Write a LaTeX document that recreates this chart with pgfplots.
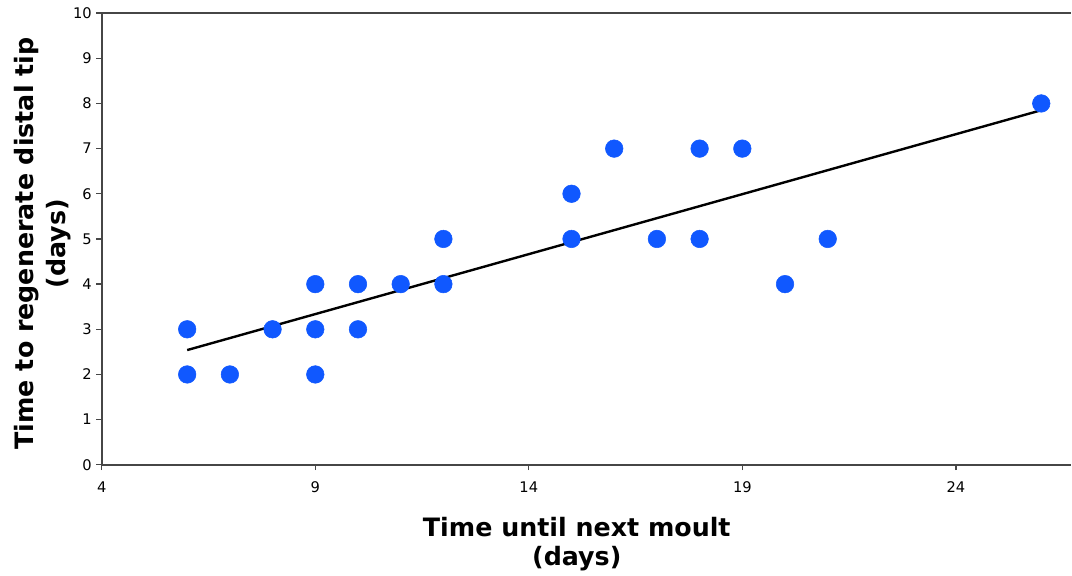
\documentclass[border=0pt]{standalone}
\usepackage{pgfplots}
\pgfplotsset{compat=1.18}
\usepackage{fontspec}
\setmainfont{DejaVu Sans}
\definecolor{dotblue}{RGB}{16,88,255}
\definecolor{axgray}{RGB}{70,70,70}
\begin{document}
\begin{tikzpicture}
\begin{axis}[
  scale only axis,
  width=727.5pt, height=339pt,
  xmin=4, xmax=26.7, ymin=0, ymax=10,
  axis x line=box, axis y line=left,
  axis line style={-, line width=1.3pt, color=axgray},
  xtick={4,9,14,19,24}, ytick={0,1,...,10},
  xtick pos=bottom, ytick pos=left,
  tick align=outside, major tick length=4pt,
  tick style={line width=1pt, color=axgray},
  /pgf/number format/assume math mode=true,
  tick label style={font=\fontsize{11}{13}\selectfont},
  xticklabel style={yshift=-5pt},
  every axis x label/.style={at={(rel axis cs:0.49,-0.175)}, anchor=center, align=center, font=\bfseries\fontsize{19}{22}\selectfont},
  every axis y label/.style={at={(rel axis cs:-0.061,0.49)}, anchor=center, rotate=90, align=center, font=\bfseries\fontsize{19}{21.5}\selectfont},
  xlabel={Time until next moult\\(days)},
  ylabel={Time to regenerate distal tip\\[3pt](days)},
  clip=false,
]
\path (rel axis cs:-0.105,-0.243) rectangle (rel axis cs:1,1.029);
\addplot[only marks, mark=*, color=dotblue, mark size=6.6pt] coordinates {
(6,3) (6,2) (7,2) (8,3) (9,4) (9,3) (9,2) (10,4) (10,3) (11,4) (12,5) (12,4)
(15,6) (15,5) (16,7) (17,5) (18,7) (18,5) (19,7) (20,4) (21,5) (26,8)
};
\addplot[black, line width=1.8pt] coordinates {(6,2.54) (26,7.85)};
\end{axis}
\end{tikzpicture}
\end{document}
